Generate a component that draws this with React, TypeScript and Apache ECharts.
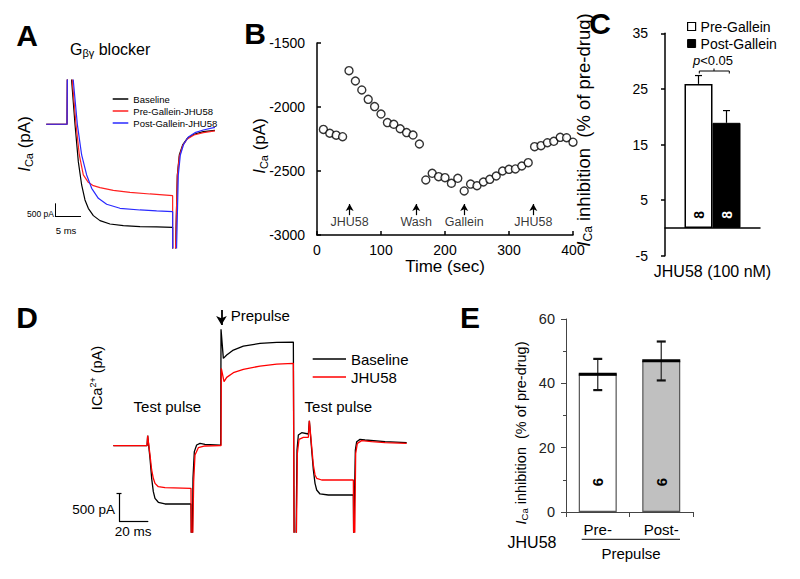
import React, { useEffect, useRef } from "react";
import * as echarts from "echarts";

const FONT = "'Liberation Sans', Arial, Helvetica, sans-serif";

// ---------------- Panel A : current traces [time (ms), current (pA)] ----------------
const aLegendNames = ["Baseline", "Pre-Gallein-JHU58", "Post-Gallein-JHU58"];
const aColors = ["#000000", "#ff2020", "#2a2aff"];
const aBaseline = [
  [1.2, 0], [5.2, 0], [5.3, 3000], [5.95, 3000],
  [6.09, 1624], [6.73, -1], [7.37, -1401], [8.01, -2276], [8.65, -2839], [9.29, -3151],
  [10.26, -3426], [11.54, -3614], [13.46, -3739], [16.03, -3801], [19.23, -3839],
  [22.44, -3851], [25.51, -3864], [25.53, -6000], [25.9, -6000],
  [26.41, -1901], [26.79, -1151], [27.44, -776], [28.33, -526], [29.62, -376], [31.41, -276], [33.65, -226],
];
const aPreGallein = [
  [1.2, 0], [5.2, 0], [5.3, 3000], [6.05, 3000],
  [6.22, 1624], [6.92, -1], [7.56, -1151], [8.33, -1901], [9.29, -2176], [10.26, -2301],
  [11.54, -2376], [14.1, -2476], [17.31, -2551], [21.15, -2614], [25.51, -2676],
  [25.53, -6000], [25.9, -6000],
  [26.41, -1964], [26.79, -1214], [27.44, -801], [28.33, -551], [29.62, -401], [31.41, -314], [33.65, -251],
];
const aPostGallein = [
  [1.2, 0], [5.2, 0], [5.3, 3000], [6.25, 3000],
  [6.41, 1624], [7.18, -1], [8.01, -1151], [8.97, -1901], [9.94, -2401], [11.22, -2776],
  [12.82, -3001], [15.38, -3151], [19.23, -3214], [22.44, -3251], [25.51, -3276],
  [25.53, -6000], [26.1, -6000],
  [26.6, -1901], [26.99, -1151], [27.63, -751], [28.53, -476], [29.81, -314], [31.41, -214], [33.65, -114],
];
const aScaleBar = { t: 2.88, i: -3465, dt: 5, di: 500 };

// ---------------- Panel B : time course ----------------
const bTime = [
  10, 20, 30, 40, 50, 60, 70, 80, 90, 100, 110, 120, 130, 140, 150, 160, 170, 180, 190, 200,
  210, 220, 230, 240, 250, 260, 270, 280, 290, 300, 310, 320, 330, 340, 350, 360, 370, 380, 390, 400,
];
const bCurrent = [
  -2175, -2205, -2220, -2232, -1716, -1797, -1867, -1940, -1997, -2055,
  -2122, -2135, -2170, -2200, -2219, -2289, -2570, -2518, -2544, -2552,
  -2596, -2557, -2656, -2602, -2615, -2586, -2565, -2539, -2500, -2487,
  -2484, -2461, -2435, -2310, -2302, -2279, -2268, -2237, -2240, -2275,
];
const bXTicks = [0, 100, 200, 300, 400];
const bYTicks = [-3000, -2500, -2000, -1500];
const bAnnotTimes = [51, 155, 230, 338];
const bAnnotLabels = ["JHU58", "Wash", "Gallein", "JHU58"];
const bAnnot = { labelY: -2902, arrowFrom: -2845, arrowTo: -2758 };

// ---------------- Panel C : bar chart ----------------
const cCategories = ["JHU58 (100 nM)"];
const cSeriesNames = ["Pre-Gallein", "Post-Gallein"];
const cMeans = [25.9, 18.9];
const cErrors = [1.5, 2.2];
const cN = [8, 8];
const cYTicks = [-5, 5, 15, 25, 35];

// ---------------- Panel D : prepulse traces [time (ms), current (pA)] ----------------
const dLegendNames = ["Baseline", "JHU58"];
const dColors = ["#000000", "#ff0000"];
const dBaseline = [
  [9.1, 0], [32.1, 0], [32.53, 177], [34.13, -223], [35.26, -576], [36.4, -812], [37.54, -930],
  [39.81, -1000], [44.36, -1030], [62.11, -1030], [62.33, -1700], [63.02, -1700], [63.47, -576],
  [64.38, -105], [65.97, 12], [68.25, 42], [71.66, 24], [81.9, 12], [82.4, 12], [82.6, 2056],
  [84.19, 1543], [86.47, 1602], [91.02, 1691], [97.84, 1761], [109.2, 1808], [120.6, 1826],
  [131.97, 1832], [132.4, 1832], [132.5, -1700], [133.79, -1700], [134.47, -76], [135.38, 189],
  [137.66, 230], [142.21, 207], [142.89, 442], [144.48, -76], [145.62, -429], [146.76, -665],
  [147.89, -783], [150.17, -853], [155.86, -871], [172.92, -871], [173.15, -1700], [173.6, -1700],
  [174.28, -76], [175.19, 71], [177.47, 112], [180.88, 101], [194.53, 71], [209.32, 54],
];
const dJHU58 = [
  [9.1, 0], [32.1, 0], [32.53, 177], [34.13, -164], [35.26, -429], [36.4, -576], [37.54, -665],
  [39.81, -724], [44.36, -741], [62.11, -753], [62.33, -1700], [63.25, -1700], [63.93, -635],
  [64.84, -164], [67.11, -35], [71.66, -5], [81.9, 0], [82.6, 0], [82.8, 1367], [84.65, 1131],
  [86.47, 1208], [91.02, 1290], [97.84, 1349], [109.2, 1408], [120.6, 1443], [131.97, 1455],
  [132.4, 1455], [132.5, -1700], [134.0, -1700], [134.7, -135], [135.83, 112], [138.79, 148],
  [142.21, 148], [142.89, 442], [144.48, -17], [145.62, -341], [146.76, -517], [147.89, -576],
  [151.31, -606], [172.92, -606], [173.15, -1700], [173.83, -1700], [174.51, -135], [175.65, 42],
  [178.6, 89], [185.4, 71], [194.53, 54], [209.32, 42],
];
const dScaleBar = { t: 12.97, i: -1343, dt: 20, di: 500 };
const dPrepulseArrow = { t: 82.9, from: 2397, to: 2132 };

// ---------------- Panel E : bar chart ----------------
const eCategories = ["Pre-", "Post-"];
const eMeans = [42.8, 47.0];
const eLower = [37.9, 40.9];
const eUpper = [47.6, 53.0];
const eN = [6, 6];
const eYTicks = [0, 20, 40, 60];
const eBarColors = ["#ffffff", "#c0c0c0"];

// ---------------- styling constants ----------------
const C_BAR_W = 28;
const E_BAR_W = 38;

function richIca(size: number, sub: number) {
  return {
    i: { fontStyle: "italic", fontSize: size, fontFamily: FONT, fill: "#000", color: "#000", lineHeight: size + 3 },
    s: { fontSize: sub, fontFamily: FONT, fill: "#000", color: "#000", verticalAlign: "bottom", lineHeight: Math.round(sub * 0.9) },
    n: { fontSize: size, fontFamily: FONT, fill: "#000", color: "#000", lineHeight: size + 3 },
    p: { fontSize: sub, fontFamily: FONT, fill: "#000", color: "#000", verticalAlign: "top", lineHeight: Math.round(sub * 1.1) },
  };
}

function txt(x: number, y: number, text: string, opts: any = {}) {
  const align = opts.align || "center";
  return {
    type: "text",
    x,
    y,
    rotation: opts.rotation || 0,
    silent: true,
    style: {
      text,
      fill: opts.fill || "#000",
      fontSize: opts.fontSize || 14,
      fontWeight: opts.fontWeight || "normal",
      fontStyle: opts.fontStyle || "normal",
      fontFamily: FONT,
      align,
      textAlign: align,
      verticalAlign: "middle",
      textVerticalAlign: "middle",
      rich: opts.rich,
    },
  };
}

const plainNumber = (v: number) => String(v);

function buildOption(): any {
  const axisText = { color: "#000", fontFamily: FONT };
  const hiddenAxis = (gridIndex: number, min: number, max: number) => ({
    type: "value", gridIndex, min, max, show: false, splitLine: { show: false },
  });

  const series: any[] = [];

  // Panel A traces
  [aBaseline, aPreGallein, aPostGallein].forEach((d, k) => {
    const s: any = {
      type: "line", name: aLegendNames[k], xAxisIndex: 0, yAxisIndex: 0, data: d,
      showSymbol: false, symbol: "none", silent: true, clip: true, z: 2 + k,
      color: aColors[k], itemStyle: { color: aColors[k] },
      lineStyle: { color: aColors[k], width: 1.2 },
    };
    if (k === 0) {
      s.markLine = {
        silent: true, symbol: ["none", "none"], label: { show: false },
        lineStyle: { type: "solid", color: "#000", width: 1 },
        emphasis: { disabled: true },
        data: [
          [{ coord: [aScaleBar.t, aScaleBar.i] }, { coord: [aScaleBar.t, aScaleBar.i + aScaleBar.di] }],
          [{ coord: [aScaleBar.t, aScaleBar.i] }, { coord: [aScaleBar.t + aScaleBar.dt, aScaleBar.i] }],
        ],
      };
    }
    series.push(s);
  });

  // Panel B scatter
  series.push({
    type: "scatter", name: "ICa", xAxisIndex: 1, yAxisIndex: 1,
    data: bTime.map((t, k) => [t, bCurrent[k]]),
    symbol: "circle", symbolSize: 8, silent: true,
    itemStyle: { color: "#fff", borderColor: "#000", borderWidth: 1.4 },
  });
  series.push({
    type: "scatter", name: "annotations", xAxisIndex: 1, yAxisIndex: 1,
    data: bAnnotTimes.map((t) => [t, bAnnot.labelY]),
    symbolSize: 1, silent: true, itemStyle: { color: "rgba(0,0,0,0)" },
    label: {
      show: true, position: "inside", color: "#000", fontSize: 12.5, fontFamily: FONT,
      formatter: (p: any) => bAnnotLabels[p.dataIndex],
    },
    markLine: {
      silent: true, symbol: ["none", "arrow"], symbolSize: [6, 7], label: { show: false },
      lineStyle: { type: "solid", color: "#000", width: 1.2 },
      emphasis: { disabled: true },
      data: bAnnotTimes.map((t) => [{ coord: [t, bAnnot.arrowFrom] }, { coord: [t, bAnnot.arrowTo] }]),
    },
  });

  // Panel C bars
  cSeriesNames.forEach((name, k) => {
    series.push({
      type: "bar", name, xAxisIndex: 2, yAxisIndex: 2, data: [cMeans[k]],
      barWidth: C_BAR_W, barGap: "0%", silent: true,
      itemStyle: k === 0
        ? { color: "#ffffff", borderColor: "#000", borderWidth: 1.5 }
        : { color: "#000000", borderColor: "#000", borderWidth: 1 },
    });
  });
  series.push({
    type: "custom", name: "cErr", xAxisIndex: 2, yAxisIndex: 2, silent: true, z: 5,
    data: cMeans.map((m, k) => [0, m, cErrors[k], cN[k]]),
    encode: { x: 0, y: 1 },
    renderItem: (params: any, api: any) => {
      const j = params.dataIndex;
      const cat = api.value(0);
      const mean = api.value(1);
      const err = api.value(2);
      const top = api.coord([cat, mean]);
      const hi = api.coord([cat, mean + err]);
      const base = api.coord([cat, 0]);
      const x = top[0] + (j === 0 ? -C_BAR_W / 2 : C_BAR_W / 2);
      return {
        type: "group",
        children: [
          { type: "line", shape: { x1: x, y1: top[1], x2: x, y2: hi[1] }, style: { stroke: "#000", lineWidth: 1.2 } },
          { type: "line", shape: { x1: x - 3.5, y1: hi[1], x2: x + 3.5, y2: hi[1] }, style: { stroke: "#000", lineWidth: 1.2 } },
          {
            type: "text", x, y: base[1] - 13, rotation: Math.PI / 2,
            style: {
              text: String(api.value(3)), fill: j === 0 ? "#000" : "#fff", fontSize: 14, fontWeight: "bold",
              fontFamily: FONT, align: "center", verticalAlign: "middle",
            },
          },
        ],
      };
    },
  });

  // Panel D traces
  [dBaseline, dJHU58].forEach((d, k) => {
    const s: any = {
      type: "line", name: dLegendNames[k], xAxisIndex: 3, yAxisIndex: 3, data: d,
      showSymbol: false, symbol: "none", silent: true, clip: true, z: 2 + k,
      color: dColors[k], itemStyle: { color: dColors[k] },
      lineStyle: { color: dColors[k], width: 1.3 },
    };
    if (k === 0) {
      s.markLine = {
        silent: true, symbol: ["none", "none"], label: { show: false },
        lineStyle: { type: "solid", color: "#000", width: 1.2 },
        emphasis: { disabled: true },
        data: [
          [{ coord: [dScaleBar.t, dScaleBar.i] }, { coord: [dScaleBar.t, dScaleBar.i + dScaleBar.di] }],
          [{ coord: [dScaleBar.t, dScaleBar.i] }, { coord: [dScaleBar.t + dScaleBar.dt, dScaleBar.i] }],
          [{ coord: [dScaleBar.t - 1.7, dScaleBar.i + dScaleBar.di] }, { coord: [dScaleBar.t + 1.7, dScaleBar.i + dScaleBar.di] }],
          [
            { coord: [dPrepulseArrow.t, dPrepulseArrow.from], lineStyle: { width: 1.8 } },
            { coord: [dPrepulseArrow.t, dPrepulseArrow.to], symbol: "arrow", symbolSize: [8, 9] },
          ],
        ],
      };
    }
    series.push(s);
  });

  // Panel E bars
  series.push({
    type: "bar", name: "eBars", xAxisIndex: 4, yAxisIndex: 4, barWidth: E_BAR_W, silent: true,
    data: eMeans.map((m, k) => ({
      value: m,
      itemStyle: { color: eBarColors[k], borderColor: "#555", borderWidth: 1.2 },
    })),
  });
  series.push({
    type: "custom", name: "eErr", xAxisIndex: 4, yAxisIndex: 4, silent: true, z: 5,
    data: eMeans.map((m, k) => [k, m, eLower[k], eUpper[k], eN[k]]),
    encode: { x: 0, y: 1 },
    renderItem: (params: any, api: any) => {
      const c = api.value(0);
      const mean = api.coord([c, api.value(1)]);
      const lo = api.coord([c, api.value(2)]);
      const hi = api.coord([c, api.value(3)]);
      const base = api.coord([c, 0]);
      const x = mean[0];
      const h = E_BAR_W / 2;
      return {
        type: "group",
        children: [
          { type: "line", shape: { x1: x, y1: lo[1], x2: x, y2: hi[1] }, style: { stroke: "#333", lineWidth: 1.3 } },
          { type: "line", shape: { x1: x - h, y1: mean[1], x2: x + h, y2: mean[1] }, style: { stroke: "#000", lineWidth: 3 } },
          { type: "line", shape: { x1: x - 4.5, y1: hi[1], x2: x + 4.5, y2: hi[1] }, style: { stroke: "#111", lineWidth: 2.2 } },
          { type: "line", shape: { x1: x - 4.5, y1: lo[1], x2: x + 4.5, y2: lo[1] }, style: { stroke: "#111", lineWidth: 2.2 } },
          {
            type: "text", x, y: base[1] - 30, rotation: Math.PI / 2,
            style: {
              text: String(api.value(4)), fill: "#000", fontSize: 15, fontWeight: "bold",
              fontFamily: FONT, align: "center", verticalAlign: "middle",
            },
          },
        ],
      };
    },
  });

  const graphic: any[] = [
    // panel letters
    txt(27, 35, "A", { fontSize: 30, fontWeight: "bold" }),
    txt(255, 33, "B", { fontSize: 30, fontWeight: "bold" }),
    txt(600, 23, "C", { fontSize: 30, fontWeight: "bold" }),
    txt(27, 317, "D", { fontSize: 30, fontWeight: "bold" }),
    txt(470, 317, "E", { fontSize: 30, fontWeight: "bold" }),
    // Panel A
    txt(70, 49, "{n|G}{s|βγ}{n| blocker}", { align: "left", rich: richIca(16, 11) }),
    txt(24, 144, "{i|I}{s|Ca}{n| (pA)}", { rotation: Math.PI / 2, rich: richIca(17, 11) }),
    txt(54, 214, "500 pA", { align: "right", fontSize: 8.5 }),
    txt(66, 230, "5 ms", { fontSize: 9.5 }),
    // Panel B
    txt(259, 146, "{i|I}{s|Ca}{n| (pA)}", { rotation: Math.PI / 2, rich: richIca(17, 11) }),
    // Panel C
    txt(583, 130, "{i|I}{s|Ca}{n| inhibition  (% of pre-drug)}", { rotation: Math.PI / 2, rich: richIca(18.5, 12) }),
    txt(713, 60, "{i|p}{n|<0.05}", { rich: richIca(13, 9) }),
    {
      type: "polyline", silent: true,
      shape: { points: [[699.3, 73.5], [699.3, 71], [729.3, 71], [729.3, 73.5]] },
      style: { stroke: "#000", lineWidth: 1, fill: "none" },
    },
    { type: "line", silent: true, shape: { x1: 714, y1: 71, x2: 714, y2: 68.5 }, style: { stroke: "#000", lineWidth: 1 } },
    // Panel D
    txt(230.7, 315.7, "Prepulse", { align: "left", fontSize: 15 }),
    txt(167.3, 406.7, "Test pulse", { fontSize: 15 }),
    txt(338.3, 406.7, "Test pulse", { fontSize: 15 }),
    txt(97, 378, "{n|ICa}{p|2+}{n| (pA)}", { rotation: Math.PI / 2, rich: richIca(14.5, 9) }),
    txt(115, 509.3, "500 pA", { align: "right", fontSize: 13.5 }),
    txt(133, 531, "20 ms", { fontSize: 13.5 }),
    // Panel E
    txt(521, 433, "{i|I}{s|Ca}{n| inhibition  (% of pre-drug)}", { rotation: Math.PI / 2, rich: richIca(14.5, 9.5) }),
    txt(532, 542, "JHU58", { fontSize: 16 }),
    txt(631, 553.3, "Prepulse", { fontSize: 15 }),
    { type: "line", silent: true, shape: { x1: 581.7, y1: 539.3, x2: 680, y2: 539.3 }, style: { stroke: "#000", lineWidth: 1 } },
  ];

  return {
    animation: false,
    backgroundColor: "#ffffff",
    textStyle: { fontFamily: FONT },
    grid: [
      { left: 40, top: 80, width: 179.9, height: 168, outerBoundsMode: "none", containLabel: false },
      { left: 317, top: 43, width: 256, height: 192, outerBoundsMode: "none", containLabel: false },
      { left: 665, top: 33.3, width: 95, height: 222.4, outerBoundsMode: "none", containLabel: false },
      { left: 100, top: 300, width: 319.4, height: 232, outerBoundsMode: "none", containLabel: false },
      { left: 566, top: 319, width: 127, height: 193, outerBoundsMode: "none", containLabel: false },
    ],
    legend: [
      {
        left: 112.7, top: 93, orient: "vertical", padding: 0, itemGap: 0, itemWidth: 15.6, itemHeight: 1.5,
        icon: "rect", selectedMode: false, data: aLegendNames, itemStyle: { borderWidth: 0 },
        textStyle: { fontSize: 9.5, lineHeight: 12, color: "#000", fontFamily: FONT },
      },
      {
        left: 687, top: 18, orient: "vertical", padding: 0, itemGap: 0, itemWidth: 8, itemHeight: 8,
        icon: "rect", selectedMode: false,
        data: [
          { name: cSeriesNames[0], itemStyle: { color: "#fff", borderColor: "#000", borderWidth: 1.2 } },
          { name: cSeriesNames[1], itemStyle: { color: "#000", borderColor: "#000", borderWidth: 1 } },
        ],
        textStyle: { fontSize: 14, lineHeight: 17, color: "#000", fontFamily: FONT },
      },
      {
        left: 312.7, top: 350, orient: "vertical", padding: 0, itemGap: 0, itemWidth: 33.3, itemHeight: 1.5,
        icon: "rect", selectedMode: false, data: dLegendNames, itemStyle: { borderWidth: 0 },
        textStyle: { fontSize: 15, lineHeight: 18, color: "#000", fontFamily: FONT },
      },
    ],
    xAxis: [
      hiddenAxis(0, 0, 34.6),
      {
        type: "value", gridIndex: 1, min: bXTicks[0], max: bXTicks[bXTicks.length - 1], interval: bXTicks[1] - bXTicks[0],
        axisLine: { show: true, onZero: false, lineStyle: { color: "#000", width: 1.5 } },
        axisTick: { show: true, inside: true, length: 4, lineStyle: { color: "#000", width: 1.5 } },
        axisLabel: { ...axisText, fontSize: 14, margin: 8, formatter: plainNumber },
        splitLine: { show: false },
        name: "Time (sec)", nameLocation: "middle", nameGap: 23,
        nameTextStyle: { ...axisText, fontSize: 17 },
      },
      {
        type: "category", gridIndex: 2, data: cCategories,
        axisLine: { show: true, onZero: true, lineStyle: { color: "#000", width: 1.5 } },
        axisTick: { show: false },
        axisLabel: { ...axisText, fontSize: 16, margin: 8 },
        splitLine: { show: false },
      },
      hiddenAxis(3, 0, 218),
      {
        type: "category", gridIndex: 4, data: eCategories,
        axisLine: { show: true, onZero: true, lineStyle: { color: "#444", width: 1 } },
        axisTick: { show: true, alignWithLabel: false, inside: false, length: 5, lineStyle: { color: "#444", width: 1 } },
        axisLabel: { ...axisText, fontSize: 15, margin: 10 },
        splitLine: { show: false },
      },
    ],
    yAxis: [
      hiddenAxis(0, -4640, 1660),
      {
        type: "value", gridIndex: 1, min: bYTicks[0], max: bYTicks[bYTicks.length - 1], interval: bYTicks[1] - bYTicks[0],
        axisLine: { show: true, onZero: false, lineStyle: { color: "#000", width: 1.5 } },
        axisTick: { show: true, inside: true, length: 4, lineStyle: { color: "#000", width: 1.5 } },
        axisLabel: { ...axisText, fontSize: 14, margin: 12, formatter: plainNumber },
        splitLine: { show: false },
      },
      {
        type: "value", gridIndex: 2, min: cYTicks[0], max: cYTicks[cYTicks.length - 1], interval: cYTicks[1] - cYTicks[0],
        axisLine: { show: true, onZero: false, lineStyle: { color: "#000", width: 1.5 } },
        axisTick: { show: true, inside: false, length: 4, lineStyle: { color: "#000", width: 1.5 } },
        axisLabel: { ...axisText, fontSize: 14, margin: 17, formatter: plainNumber },
        splitLine: { show: false },
      },
      hiddenAxis(3, -1525, 2575),
      {
        type: "value", gridIndex: 4, min: eYTicks[0], max: eYTicks[eYTicks.length - 1], interval: eYTicks[1] - eYTicks[0],
        axisLine: { show: true, onZero: false, lineStyle: { color: "#444", width: 1 } },
        axisTick: { show: true, inside: false, length: 5, lineStyle: { color: "#444", width: 1 } },
        minorTick: { show: true, splitNumber: 2, length: 3, lineStyle: { color: "#444", width: 1 } },
        axisLabel: { ...axisText, color: "#222", fontSize: 14.5, margin: 11, formatter: plainNumber },
        splitLine: { show: false },
        minorSplitLine: { show: false },
      },
    ],
    series,
    graphic,
  };
}

export default function App() {
  const ref = useRef<HTMLDivElement>(null);
  useEffect(() => {
    const el = ref.current;
    if (!el) return;
    const chart = echarts.init(el, null, { renderer: "svg" });
    chart.setOption(buildOption());
    return () => {
      chart.dispose();
    };
  }, []);
  return (
    <div
      ref={ref}
      style={{ position: "fixed", left: 0, top: 0, width: 800, height: 579, background: "#ffffff" }}
    />
  );
}
